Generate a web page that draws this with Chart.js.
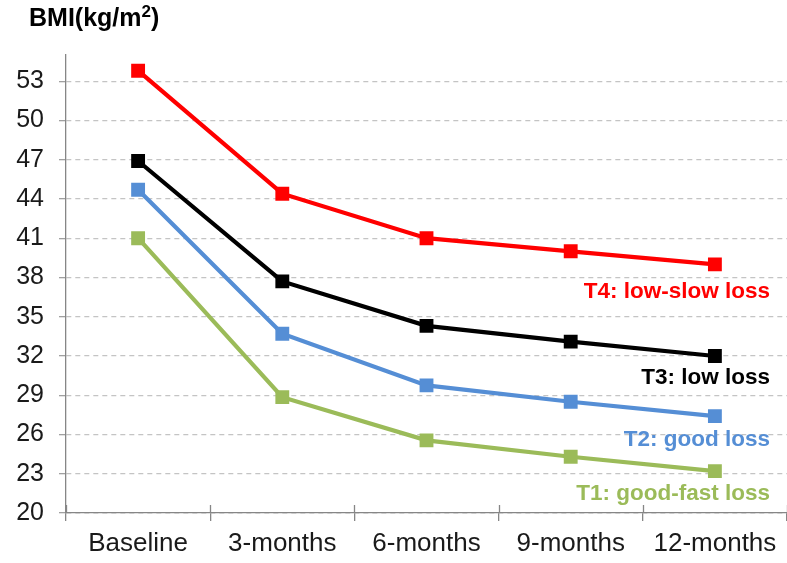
<!DOCTYPE html>
<html><head><meta charset="utf-8">
<script src="https://cdn.jsdelivr.net/npm/chart.js@4/dist/chart.umd.min.js"></script>
<style>html,body{margin:0;padding:0;background:#fff}#wrap{position:relative;width:787px;height:563px}
#title{position:absolute;left:29px;top:3px;font:bold 25px "Liberation Sans",Arial,sans-serif;color:#000;white-space:nowrap}
#title sup{font-size:17px;vertical-align:9px;line-height:0}
</style></head>
<body><div id="wrap"><div id="title">BMI(kg/m<sup>2</sup>)</div><canvas id="c" width="787" height="563"></canvas></div>
<script>
const categories = ["Baseline","3-months","6-months","9-months","12-months"];
const t4 = [53.8, 44.4, 41.0, 40.0, 39.0];
const t3 = [46.9, 37.7, 34.3, 33.1, 32.0];
const t2 = [44.7, 33.7, 29.75, 28.5, 27.4];
const t1 = [41.0, 28.85, 25.55, 24.3, 23.2];
const seriesNames = ["T4: low-slow loss","T3: low loss","T2: good loss","T1: good-fast loss"];
const yTicks = [20,23,26,29,32,35,38,41,44,47,50,53];

const colors = ["#FF0000","#000000","#558ED5","#9BBB59"];
const labelAnchors = [36.9, 30.3, 25.6, 21.45];
const FONT = '"Liberation Sans", Arial, sans-serif';

const seriesLabels = {
  id: 'seriesLabels',
  afterDatasetsDraw(chart) {
    const {ctx, scales:{x, y}} = chart;
    ctx.save();
    ctx.font = 'bold 22.5px ' + FONT;
    ctx.textAlign = 'right';
    ctx.textBaseline = 'middle';
    seriesNames.forEach((n, i) => {
      ctx.fillStyle = colors[i];
      ctx.fillText(n, x.right - 17, y.getPixelForValue(labelAnchors[i]));
    });
    ctx.restore();
  }
};

const innerTicks = {
  id: 'innerTicks',
  afterDraw(chart) {
    const {ctx, scales:{x}} = chart;
    ctx.save();
    ctx.strokeStyle = '#868686';
    ctx.lineWidth = 1.3;
    ctx.beginPath();
    for (let i = 0; i <= categories.length; i++) {
      const px = Math.round(x.getPixelForValue(i - 0.5)) + 0.5;
      ctx.moveTo(px, x.top - 8);
      ctx.lineTo(px, x.top);
    }
    ctx.stroke();
    ctx.restore();
  }
};

const data = [t4, t3, t2, t1];
new Chart(document.getElementById('c'), {
  type: 'line',
  data: {
    labels: categories,
    datasets: data.map((d, i) => ({
      label: seriesNames[i], data: d,
      borderColor: colors[i], backgroundColor: colors[i],
      borderWidth: 4.2, pointStyle: 'rect', pointRadius: 9.8, pointHoverRadius: 9.8,
      pointBorderWidth: 0, tension: 0
    })).reverse()
  },
  options: {
    responsive: false, animation: false, devicePixelRatio: 1,
    layout: { autoPadding: false, padding: { left: 1, top: 55, right: 0, bottom: 0 } },
    plugins: { legend: { display: false }, tooltip: { enabled: false } },
    scales: {
      x: {
        offset: true,
        grid: { offset: true, drawOnChartArea: false, drawTicks: true, tickLength: 8, color: '#868686', lineWidth: 1.3 },
        border: { color: '#868686', width: 1.3 },
        ticks: { font: { size: 26, family: FONT }, color: '#1a1a1a', padding: 7, maxRotation: 0, autoSkip: false },
        afterFit(s) { s.height = 50; s.paddingLeft = 0; s.paddingRight = 0; }
      },
      y: {
        min: 20, max: 55,
        afterBuildTicks(s) { s.ticks = yTicks.map(v => ({ value: v })); },
        grid: { color: ctx => ctx.tick && ctx.tick.value === 20 ? '#868686' : '#C4C4C4', lineWidth: 1.3, tickLength: 7, tickColor: '#A0A0A0' },
        border: { color: '#868686', width: 1.3, dash: [5, 4] },
        ticks: { font: { size: 25, family: FONT }, color: '#1a1a1a', padding: 15 },
        afterFit(s) { s.width = 65; s.paddingTop = 0; s.paddingBottom = 0; }
      }
    }
  },
  plugins: [seriesLabels, innerTicks]
});
</script></body></html>
